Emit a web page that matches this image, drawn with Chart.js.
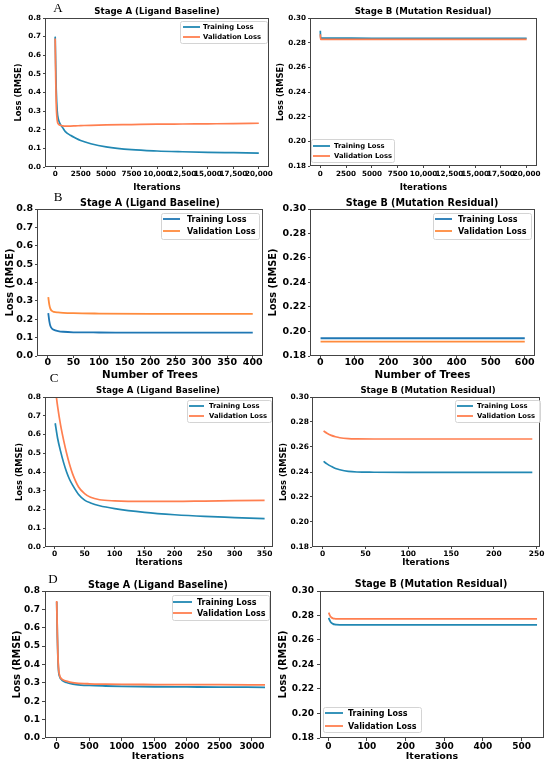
<!DOCTYPE html>
<html>
<head>
<meta charset="utf-8">
<script src="https://cdn.jsdelivr.net/npm/chart.js@4.4.1/dist/chart.umd.min.js"></script>
<style>
html, body { margin: 0; padding: 0; background: #fff; }
body { width: 550px; height: 765px; position: relative; overflow: hidden; }
canvas { position: absolute; }
</style>
</head>
<body>
<canvas id="aLeft"></canvas>
<canvas id="aRight"></canvas>
<canvas id="bLeft"></canvas>
<canvas id="bRight"></canvas>
<canvas id="cLeft"></canvas>
<canvas id="cRight"></canvas>
<canvas id="dLeft"></canvas>
<canvas id="dRight"></canvas>
<script>
// --- data ---
// A: iterations
const aLeftIter  = [0, 50, 100, 200, 300, 500, 750, 1000, 1500, 2000, 2500, 3500, 5000, 7500, 10000, 12500, 15000, 17500, 20000];
const aLeftTrain = [0.70, 0.55, 0.42, 0.30, 0.26, 0.23, 0.21, 0.19, 0.17, 0.155, 0.142, 0.125, 0.108, 0.093, 0.086, 0.082, 0.079, 0.077, 0.075];
const aLeftVal   = [0.69, 0.48, 0.34, 0.25, 0.232, 0.224, 0.221, 0.220, 0.220, 0.221, 0.222, 0.224, 0.226, 0.228, 0.230, 0.231, 0.232, 0.233, 0.235];

const aRightIter  = [0, 30, 100, 1000, 5000, 10000, 15000, 20000];
const aRightTrain = [0.2897, 0.2838, 0.2837, 0.2837, 0.2836, 0.2836, 0.2836, 0.2836];
const aRightVal   = [0.2868, 0.2827, 0.2826, 0.2826, 0.2826, 0.2826, 0.2826, 0.2826];

// B: number of trees
const bLeftTrees = [1, 3, 5, 8, 12, 20, 30, 50, 100, 200, 300, 400];
const bLeftTrain = [0.233, 0.19, 0.165, 0.150, 0.142, 0.136, 0.132, 0.129, 0.128, 0.127, 0.127, 0.127];
const bLeftVal   = [0.32, 0.28, 0.258, 0.245, 0.240, 0.237, 0.235, 0.233, 0.231, 0.229, 0.229, 0.229];

const bRightTrees = [1, 100, 200, 300, 400, 500, 600];
const bRightTrain = [0.1945, 0.1945, 0.1945, 0.1945, 0.1945, 0.1945, 0.1945];
const bRightVal   = [0.1918, 0.1918, 0.1918, 0.1918, 0.1918, 0.1918, 0.1918];

// C: iterations
const cLeftIter  = [1, 5, 10, 15, 20, 25, 30, 40, 50, 60, 75, 100, 150, 200, 250, 300, 350];
const cLeftTrain = [0.66, 0.58, 0.51, 0.45, 0.40, 0.36, 0.33, 0.28, 0.25, 0.235, 0.22, 0.205, 0.185, 0.172, 0.163, 0.157, 0.151];
const cLeftVal   = [0.85, 0.75, 0.65, 0.57, 0.50, 0.44, 0.39, 0.32, 0.285, 0.265, 0.252, 0.246, 0.243, 0.243, 0.245, 0.247, 0.249];

const cRightIter  = [1, 5, 10, 15, 20, 30, 40, 60, 100, 150, 200, 245];
const cRightTrain = [0.2485, 0.2465, 0.2445, 0.2428, 0.2418, 0.2405, 0.2400, 0.2398, 0.2397, 0.2397, 0.2397, 0.2397];
const cRightVal   = [0.2728, 0.2710, 0.2693, 0.2682, 0.2674, 0.2667, 0.2665, 0.2664, 0.2664, 0.2664, 0.2664, 0.2664];

// D: iterations
const dLeftIter  = [0, 10, 20, 30, 50, 75, 100, 150, 200, 300, 500, 750, 1000, 1500, 2000, 2500, 3200];
const dLeftTrain = [0.74, 0.55, 0.42, 0.36, 0.33, 0.318, 0.31, 0.302, 0.297, 0.291, 0.286, 0.283, 0.281, 0.279, 0.278, 0.277, 0.276];
const dLeftVal   = [0.745, 0.56, 0.43, 0.37, 0.335, 0.322, 0.316, 0.309, 0.304, 0.299, 0.295, 0.293, 0.292, 0.291, 0.290, 0.290, 0.289];

const dRightIter  = [1, 3, 5, 8, 12, 16, 20, 30, 50, 100, 300, 540];
const dRightTrain = [0.278, 0.2765, 0.2752, 0.2740, 0.2732, 0.2727, 0.2725, 0.2724, 0.2724, 0.2724, 0.2724, 0.2724];
const dRightVal   = [0.2824, 0.2808, 0.2795, 0.2784, 0.2777, 0.2774, 0.2773, 0.2772, 0.2772, 0.2772, 0.2772, 0.2772];

// tick values and labels
const leftYTicks  = [0.0, 0.1, 0.2, 0.3, 0.4, 0.5, 0.6, 0.7, 0.8];
const leftYLabels = ['0.0', '0.1', '0.2', '0.3', '0.4', '0.5', '0.6', '0.7', '0.8'];
const rightYTicks  = [0.18, 0.20, 0.22, 0.24, 0.26, 0.28, 0.30];
const rightYLabels = ['0.18', '0.20', '0.22', '0.24', '0.26', '0.28', '0.30'];
const aXTicks  = [0, 2500, 5000, 7500, 10000, 12500, 15000, 17500, 20000];
const aXLabels = ['0', '2500', '5000', '7500', '10,000', '12,500', '15,000', '17,500', '20,000'];
const bLeftXTicks  = [0, 50, 100, 150, 200, 250, 300, 350, 400];
const bRightXTicks = [0, 100, 200, 300, 400, 500, 600];
const cLeftXTicks  = [0, 50, 100, 150, 200, 250, 300, 350];
const cRightXTicks = [0, 50, 100, 150, 200, 250];
const dLeftXTicks  = [0, 500, 1000, 1500, 2000, 2500, 3000];
const dRightXTicks = [0, 100, 200, 300, 400, 500];

const titleA = 'Stage A (Ligand Baseline)';
const titleB = 'Stage B (Mutation Residual)';
const seriesNames = ['Training Loss', 'Validation Loss'];

const TEAL = '#2188b3', CORAL = '#ff7f50';
const BLUE = '#1f77b4', ORANGE = '#ff8b3d';
const FONT = '"DejaVu Sans", sans-serif';
const INK = '#000';

// frame, title, panel letter and legend box (matplotlib look)
const decor = {
    id: 'decor',
    afterDatasetsDraw(chart, args, o) {
        const { ctx, chartArea: a } = chart;
        ctx.save();
        ctx.strokeStyle = '#444';
        ctx.lineWidth = 1;
        ctx.strokeRect(a.left + 0.5, a.top + 0.5, a.right - a.left - 1, a.bottom - a.top - 1);
        ctx.restore();
    },
    afterDraw(chart, args, o) {
        const ctx = chart.ctx;
        const ox = o.cell.x, oy = o.cell.y;
        ctx.save();
        ctx.fillStyle = INK;
        ctx.textAlign = 'center';
        ctx.textBaseline = 'middle';
        ctx.font = `bold ${o.titleSize}px ${FONT}`;
        ctx.fillText(o.title.text, o.title.x - ox, o.title.y - oy);
        if (o.letter) {
            ctx.font = `${o.letter.size}px "Liberation Serif", serif`;
            ctx.fillText(o.letter.text, o.letter.x - ox, o.letter.y - oy);
        }
        // legend
        const L = o.legend;
        const bx = L.x - ox, by = L.y - oy;
        ctx.beginPath();
        ctx.roundRect(bx + 0.5, by + 0.5, L.w, L.h, 2);
        ctx.fillStyle = 'rgba(255,255,255,0.85)';
        ctx.fill();
        ctx.strokeStyle = '#d4d4d4';
        ctx.lineWidth = 1;
        ctx.stroke();
        ctx.textAlign = 'left';
        ctx.font = `bold ${L.size}px ${FONT}`;
        chart.data.datasets.forEach((ds, i) => {
            const y = L.rows[i] - oy;
            ctx.beginPath();
            ctx.moveTo(L.line[0] - ox, y);
            ctx.lineTo(L.line[1] - ox, y);
            ctx.strokeStyle = ds.borderColor;
            ctx.lineWidth = 1.8;
            ctx.stroke();
            ctx.fillStyle = INK;
            ctx.fillText(ds.label, L.textX - ox, y + 0.5);
        });
        ctx.restore();
    }
};

function points(xs, ys) {
    return xs.map((x, i) => ({ x: x, y: ys[i] }));
}

function panel(id, s) {
    const canvas = document.getElementById(id);
    const c = s.cell, p = s.plot;
    canvas.width = c.w;
    canvas.height = c.h;
    canvas.style.left = c.x + 'px';
    canvas.style.top = c.y + 'px';
    const yW = p.l - c.x;
    const xH = c.y + c.h - p.b;
    const tl = s.tickLen;
    const tickFont = { family: FONT, weight: 'bold', size: s.tickSize };
    const xTickPad = s.xTickY - p.b - tl - 0.6 * s.tickSize;
    const yTickPad = p.l - s.yTickRight - tl;

    new Chart(canvas, {
        type: 'line',
        data: {
            datasets: [
                { label: seriesNames[0], data: points(s.xs, s.train), borderColor: s.colors[0], order: 1 },
                { label: seriesNames[1], data: points(s.xs, s.val), borderColor: s.colors[1], order: 0 }
            ]
        },
        options: {
            responsive: false,
            animation: false,
            layout: { padding: { left: 0, top: p.t - c.y, right: c.x + c.w - p.r, bottom: 0 } },
            elements: {
                point: { radius: 0 },
                line: { borderWidth: s.lineWidth, cubicInterpolationMode: 'monotone', fill: false }
            },
            plugins: {
                legend: { display: false },
                tooltip: { enabled: false },
                decor: { cell: c, title: s.title, titleSize: s.titleSize, letter: s.letter, legend: s.legend }
            },
            scales: {
                x: {
                    type: 'linear',
                    min: s.xRange[0],
                    max: s.xRange[1],
                    afterBuildTicks: sc => { sc.ticks = s.xTicks.map(v => ({ value: v })); },
                    afterFit: sc => { sc.height = xH; },
                    ticks: {
                        autoSkip: false, maxRotation: 0, minRotation: 0, padding: xTickPad,
                        color: INK, font: tickFont,
                        callback: (v, i) => s.xLabels[i]
                    },
                    grid: { drawOnChartArea: false, drawTicks: true, tickLength: tl, color: '#444' },
                    border: { display: false },
                    title: {
                        display: true, text: s.xTitle, color: INK,
                        font: { family: FONT, weight: 'bold', size: s.xLabelSize },
                        padding: { top: 0, bottom: c.y + c.h - s.xTitleY - 0.6 * s.xLabelSize }
                    }
                },
                y: {
                    type: 'linear',
                    min: s.yTicks[0],
                    max: s.yTicks[s.yTicks.length - 1],
                    afterBuildTicks: sc => { sc.ticks = s.yTicks.map(v => ({ value: v })); },
                    afterFit: sc => { sc.width = yW; },
                    ticks: {
                        padding: yTickPad, color: INK, font: tickFont,
                        callback: (v, i) => s.yLabels[i]
                    },
                    grid: { drawOnChartArea: false, drawTicks: true, tickLength: tl, color: '#444' },
                    border: { display: false },
                    title: {
                        display: true, text: 'Loss (RMSE)', color: INK,
                        font: { family: FONT, weight: 'bold', size: s.yLabelSize },
                        padding: { top: s.yTitleX - c.x - 0.6 * s.yLabelSize, bottom: 0 }
                    }
                }
            }
        },
        plugins: [decor]
    });
}

// row A
panel('aLeft', {
    xs: aLeftIter, train: aLeftTrain, val: aLeftVal, colors: [TEAL, CORAL], lineWidth: 1.7,
    xRange: [-1000, 21000], xTicks: aXTicks, xLabels: aXLabels,
    yTicks: leftYTicks, yLabels: leftYLabels, xTitle: 'Iterations',
    cell: { x: 0, y: 0, w: 275, h: 197 }, plot: { l: 45, t: 18, r: 269, b: 167 },
    tickLen: 2, tickSize: 7.2, xTickY: 174, yTickRight: 41,
    yTitleX: 19, yLabelSize: 8.4, xTitleY: 188, xLabelSize: 8.6,
    title: { text: titleA, x: 157, y: 12 }, titleSize: 8.6,
    letter: { text: 'A', x: 58, y: 9, size: 13 },
    legend: { x: 180, y: 21, w: 87, h: 22, rows: [27, 37], line: [183, 200], textX: 203, size: 6.8 }
});
panel('aRight', {
    xs: aRightIter, train: aRightTrain, val: aRightVal, colors: [TEAL, CORAL], lineWidth: 1.7,
    xRange: [-1000, 21000], xTicks: aXTicks, xLabels: aXLabels,
    yTicks: rightYTicks, yLabels: rightYLabels, xTitle: 'Iterations',
    cell: { x: 275, y: 0, w: 275, h: 197 }, plot: { l: 310, t: 18, r: 537, b: 166 },
    tickLen: 2, tickSize: 7.2, xTickY: 174, yTickRight: 306,
    yTitleX: 281, yLabelSize: 8.4, xTitleY: 188, xLabelSize: 8.6,
    title: { text: titleB, x: 423, y: 12 }, titleSize: 8.6,
    letter: null,
    legend: { x: 311, y: 139, w: 83, h: 23, rows: [146, 156], line: [313, 330], textX: 334, size: 6.8 }
});

// row B
panel('bLeft', {
    xs: bLeftTrees, train: bLeftTrain, val: bLeftVal, colors: [BLUE, ORANGE], lineWidth: 1.8,
    xRange: [-21, 420], xTicks: bLeftXTicks, xLabels: bLeftXTicks.map(String),
    yTicks: leftYTicks, yLabels: leftYLabels, xTitle: 'Number of Trees',
    cell: { x: 0, y: 190, w: 268, h: 195 }, plot: { l: 37, t: 209, r: 263, b: 356 },
    tickLen: 2, tickSize: 9.5, xTickY: 363, yTickRight: 33,
    yTitleX: 10, yLabelSize: 9.8, xTitleY: 375, xLabelSize: 10.3,
    title: { text: titleA, x: 150, y: 203 }, titleSize: 9.6,
    letter: { text: 'B', x: 58, y: 198, size: 13 },
    legend: { x: 161, y: 213, w: 98, h: 26, rows: [219, 231], line: [163, 180], textX: 187, size: 8 }
});
panel('bRight', {
    xs: bRightTrees, train: bRightTrain, val: bRightVal, colors: [BLUE, ORANGE], lineWidth: 1.8,
    xRange: [-30, 630], xTicks: bRightXTicks, xLabels: bRightXTicks.map(String),
    yTicks: rightYTicks, yLabels: rightYLabels, xTitle: 'Number of Trees',
    cell: { x: 262, y: 190, w: 288, h: 195 }, plot: { l: 310, t: 209, r: 535, b: 356 },
    tickLen: 2, tickSize: 9.5, xTickY: 363, yTickRight: 306,
    yTitleX: 273, yLabelSize: 9.8, xTitleY: 375, xLabelSize: 10.3,
    title: { text: titleB, x: 422, y: 203 }, titleSize: 9.6,
    letter: null,
    legend: { x: 433, y: 213, w: 98, h: 26, rows: [219, 231], line: [435, 452], textX: 458, size: 8 }
});

// row C
panel('cLeft', {
    xs: cLeftIter, train: cLeftTrain, val: cLeftVal, colors: [TEAL, CORAL], lineWidth: 1.7,
    xRange: [-16, 364], xTicks: cLeftXTicks, xLabels: cLeftXTicks.map(String),
    yTicks: leftYTicks, yLabels: leftYLabels, xTitle: 'Iterations',
    cell: { x: 0, y: 372, w: 275, h: 203 }, plot: { l: 45, t: 397, r: 273, b: 547 },
    tickLen: 2, tickSize: 7.5, xTickY: 554, yTickRight: 41,
    yTitleX: 20, yLabelSize: 8.4, xTitleY: 563, xLabelSize: 8.6,
    title: { text: titleA, x: 158, y: 391 }, titleSize: 8.5,
    letter: { text: 'C', x: 54, y: 379, size: 13 },
    legend: { x: 187, y: 400, w: 84, h: 22, rows: [406, 416], line: [189, 204], textX: 209, size: 6.8 }
});
panel('cRight', {
    xs: cRightIter, train: cRightTrain, val: cRightVal, colors: [TEAL, CORAL], lineWidth: 1.7,
    xRange: [-12.5, 254], xTicks: cRightXTicks, xLabels: cRightXTicks.map(String),
    yTicks: rightYTicks, yLabels: rightYLabels, xTitle: 'Iterations',
    cell: { x: 275, y: 380, w: 275, h: 195 }, plot: { l: 312, t: 397, r: 540, b: 547 },
    tickLen: 2, tickSize: 7.5, xTickY: 554, yTickRight: 309,
    yTitleX: 284, yLabelSize: 8.4, xTitleY: 563, xLabelSize: 8.6,
    title: { text: titleB, x: 428, y: 391 }, titleSize: 8.5,
    letter: null,
    legend: { x: 455, y: 400, w: 85, h: 22, rows: [406, 416], line: [457, 473], textX: 477, size: 6.8 }
});

// row D
panel('dLeft', {
    xs: dLeftIter, train: dLeftTrain, val: dLeftVal, colors: [TEAL, CORAL], lineWidth: 1.8,
    xRange: [-180, 3292], xTicks: dLeftXTicks, xLabels: dLeftXTicks.map(String),
    yTicks: leftYTicks, yLabels: leftYLabels, xTitle: 'Iterations',
    cell: { x: 0, y: 572, w: 275, h: 193 }, plot: { l: 45, t: 591, r: 271, b: 738 },
    tickLen: 3, tickSize: 9, xTickY: 747, yTickRight: 40,
    yTitleX: 17, yLabelSize: 9.8, xTitleY: 757, xLabelSize: 9.5,
    title: { text: titleA, x: 158, y: 585 }, titleSize: 9.6,
    letter: { text: 'D', x: 53, y: 580, size: 13 },
    legend: { x: 172, y: 595, w: 97, h: 25, rows: [602, 613], line: [173, 192], textX: 197, size: 8 }
});
panel('dRight', {
    xs: dRightIter, train: dRightTrain, val: dRightVal, colors: [TEAL, CORAL], lineWidth: 1.8,
    xRange: [-21.5, 558], xTicks: dRightXTicks, xLabels: dRightXTicks.map(String),
    yTicks: rightYTicks, yLabels: rightYLabels, xTitle: 'Iterations',
    cell: { x: 275, y: 575, w: 275, h: 190 }, plot: { l: 320, t: 591, r: 544, b: 738 },
    tickLen: 3, tickSize: 9, xTickY: 747, yTickRight: 314,
    yTitleX: 283, yLabelSize: 9.8, xTitleY: 757, xLabelSize: 9.5,
    title: { text: titleB, x: 431, y: 584 }, titleSize: 9.6,
    letter: null,
    legend: { x: 323, y: 707, w: 98, h: 25, rows: [713, 726], line: [325, 343], textX: 348, size: 8 }
});
</script>
</body>
</html>
